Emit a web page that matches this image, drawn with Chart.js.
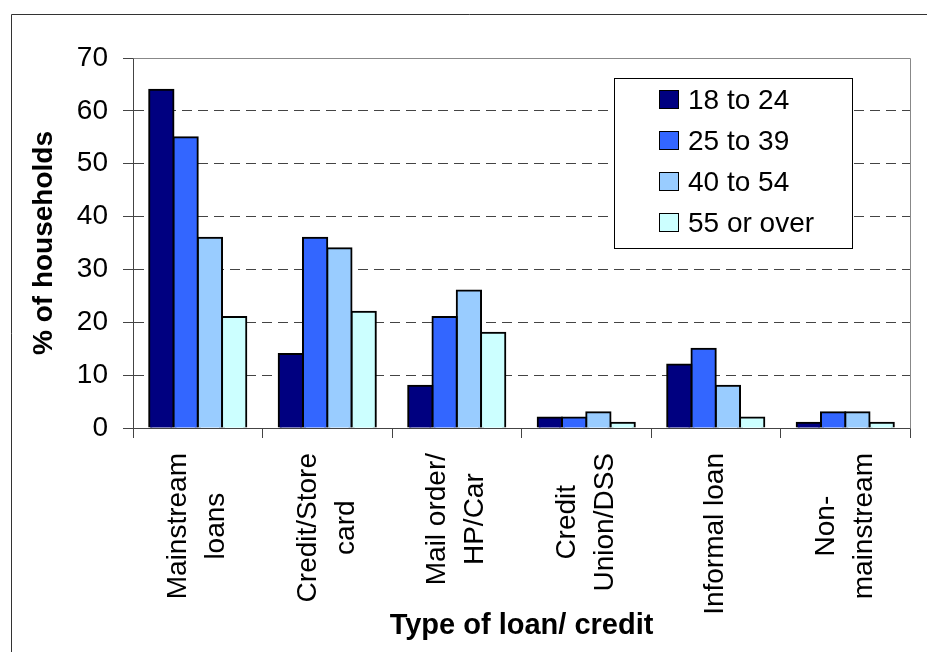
<!DOCTYPE html>
<html>
<head>
<meta charset="utf-8">
<title>Type of loan/ credit by age</title>
<script src="https://cdn.jsdelivr.net/npm/chart.js@4.4.1/dist/chart.umd.min.js"></script>
<style>
  html, body { margin: 0; padding: 0; background: #fff; }
  canvas { display: block; }
</style>
</head>
<body>
<canvas id="loanChart" width="927" height="652"></canvas>
<script>
"use strict";

// Values (% of households)
const loanTypes = [
    ['Mainstream', 'loans'],
    ['Credit/Store', 'card'],
    ['Mail order/', 'HP/Car'],
    ['Credit', 'Union/DSS'],
    ['Informal loan'],
    ['Non-', 'mainstream']
];
const ageGroups = ['18 to 24', '25 to 39', '40 to 54', '55 or over'];
const age18to24 = [64, 14, 8, 2, 12, 1];
const age25to39 = [55, 36, 21, 2, 15, 3];
const age40to54 = [36, 34, 26, 3, 8, 3];
const age55over = [21, 22, 18, 1, 2, 1];
const yMin = 0;
const yMax = 70;
const yStep = 10;

const barColours = ['#000080', '#3366FF', '#99CCFF', '#CCFFFF'];
const seriesValues = [age18to24, age25to39, age40to54, age55over];
const FONT = "'Liberation Sans', Arial, sans-serif";

document.addEventListener("DOMContentLoaded", function() {

    // white page + the outer frame (only its left and top edges are in view)
    const outerFrame = {
        id: 'outerFrame',
        beforeDraw(chart) {
            const ctx = chart.ctx;
            ctx.save();
            ctx.fillStyle = '#fff';
            ctx.fillRect(0, 0, chart.width, chart.height);
            ctx.strokeStyle = '#333';
            ctx.lineWidth = 1;
            ctx.beginPath();
            ctx.moveTo(11.5, chart.height + 5);
            ctx.lineTo(11.5, 14.5);
            ctx.lineTo(chart.width + 5, 14.5);
            ctx.stroke();
            ctx.restore();
        }
    };

    // grey plot-area border on top and right
    const plotBorder = {
        id: 'plotBorder',
        beforeDatasetsDraw(chart) {
            const a = chart.chartArea;
            const ctx = chart.ctx;
            ctx.save();
            ctx.strokeStyle = '#888';
            ctx.lineWidth = 1;
            ctx.beginPath();
            ctx.moveTo(Math.round(a.left) + 0.5, Math.round(a.top) + 0.5);
            ctx.lineTo(Math.round(a.right) + 0.5, Math.round(a.top) + 0.5);
            ctx.lineTo(Math.round(a.right) + 0.5, Math.round(a.bottom) + 0.5);
            ctx.stroke();
            ctx.restore();
        }
    };

    // category labels, rotated, each line centred inside its block
    const categoryLabels = {
        id: 'categoryLabels',
        afterDraw(chart) {
            const xScale = chart.scales.x;
            const ctx = chart.ctx;
            const topY = 453;
            const pitch = 38;
            ctx.save();
            ctx.font = '28px ' + FONT;
            ctx.fillStyle = '#000';
            ctx.textAlign = 'center';
            ctx.textBaseline = 'middle';
            chart.data.labels.forEach((label, i) => {
                const lines = Array.isArray(label) ? label : [label];
                const maxW = Math.max(...lines.map(l => ctx.measureText(l).width));
                const x = xScale.getPixelForValue(i);
                lines.forEach((line, j) => {
                    const cx = x + (j - (lines.length - 1) / 2) * pitch;
                    ctx.save();
                    ctx.translate(cx, topY + maxW / 2);
                    ctx.rotate(-Math.PI / 2);
                    ctx.fillText(line, 0, 0);
                    ctx.restore();
                });
            });
            ctx.restore();
        }
    };

    // boxed legend sitting inside the plot area
    const boxLegend = {
        id: 'boxLegend',
        afterDraw(chart) {
            const ctx = chart.ctx;
            ctx.save();
            ctx.fillStyle = '#fff';
            ctx.fillRect(614, 78, 238, 170);
            ctx.strokeStyle = '#000';
            ctx.lineWidth = 1;
            ctx.strokeRect(614.5, 78.5, 238, 170);
            ctx.font = '28px ' + FONT;
            ctx.textBaseline = 'middle';
            ctx.textAlign = 'left';
            chart.data.datasets.forEach((ds, i) => {
                const cy = 100 + i * 41;
                ctx.fillStyle = ds.backgroundColor;
                ctx.fillRect(659, cy - 10, 20, 19);
                ctx.strokeRect(659.5, cy - 9.5, 19, 18);
                ctx.fillStyle = '#000';
                ctx.fillText(ds.label, 688, cy + 1);
            });
            ctx.restore();
        }
    };

    const ctx = document.getElementById('loanChart').getContext('2d');
    new Chart(ctx, {
        type: 'bar',
        data: {
            labels: loanTypes,
            datasets: ageGroups.map((name, i) => ({
                label: name,
                data: seriesValues[i],
                backgroundColor: barColours[i],
                borderColor: '#000',
                borderWidth: 2,
                inflateAmount: 1, // centre the outline on the bar edge, like the original
                borderSkipped: 'start',
                barPercentage: 1,
                categoryPercentage: 0.75
            }))
        },
        options: {
            responsive: false,
            animation: false,
            events: [],
            layout: {
                padding: { left: 14, top: 58, right: 17, bottom: 5 }
            },
            plugins: {
                legend: { display: false },
                tooltip: { enabled: false }
            },
            scales: {
                x: {
                    grid: {
                        display: true,
                        offset: true,
                        drawOnChartArea: false,
                        drawTicks: true,
                        tickLength: 10,
                        tickColor: '#444'
                    },
                    border: { display: true, color: '#444', width: 1 },
                    ticks: { display: false },
                    title: {
                        display: true,
                        text: 'Type of loan/ credit',
                        color: '#000',
                        font: { family: FONT, size: 29, weight: 'bold' },
                        padding: { top: 0, bottom: 4 }
                    },
                    afterFit(scale) {
                        scale.height = 219;
                    }
                },
                y: {
                    min: yMin,
                    max: yMax,
                    grid: {
                        color: c => (c.tick.value === yMin || c.tick.value === yMax) ? 'rgba(0,0,0,0)' : '#444',
                        lineWidth: 1,
                        drawTicks: true,
                        tickLength: 10,
                        tickColor: '#444',
                        tickBorderDash: []
                    },
                    border: { display: true, color: '#444', width: 1, dash: [10, 6] },
                    ticks: {
                        stepSize: yStep,
                        padding: 15,
                        color: '#000',
                        font: { family: FONT, size: 28 }
                    },
                    title: {
                        display: true,
                        text: '% of households',
                        color: '#000',
                        font: { family: FONT, size: 28, weight: 'bold' },
                        padding: { top: 13, bottom: 0 }
                    },
                    afterFit(scale) {
                        scale.width = 119;
                    }
                }
            }
        },
        plugins: [outerFrame, plotBorder, categoryLabels, boxLegend]
    });
});
</script>
</body>
</html>
